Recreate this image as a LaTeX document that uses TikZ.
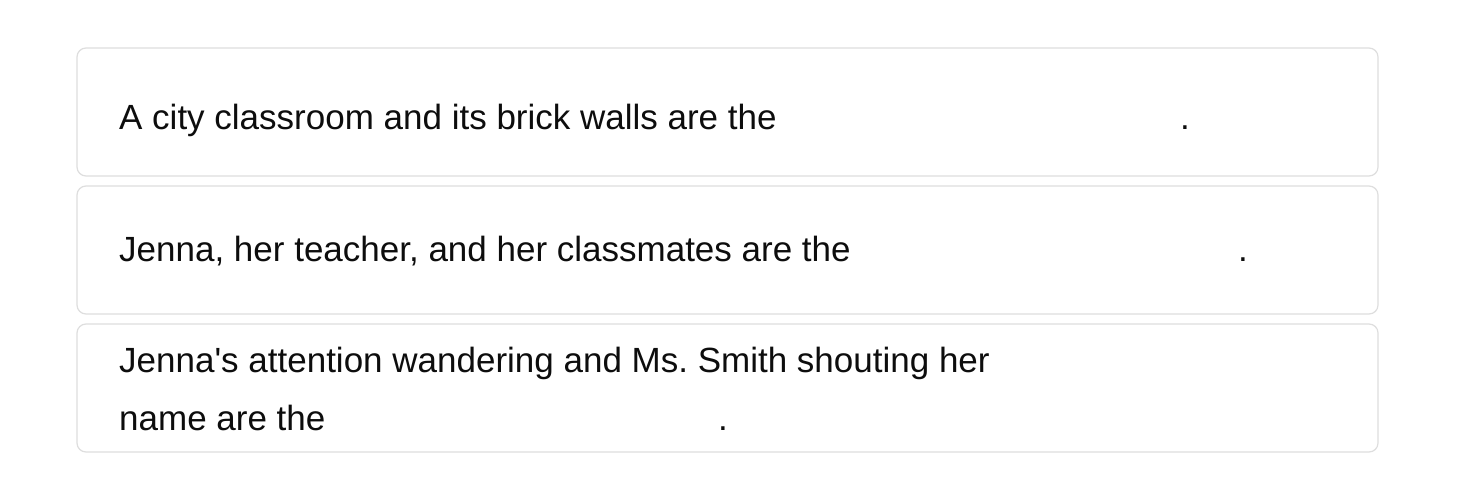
\documentclass[tikz,border=0pt]{standalone}
\usepackage{fontspec}
\setmainfont{Liberation Sans}
\begin{document}
\frenchspacing
\begin{tikzpicture}[x=1pt,y=-1pt,
  card/.style={draw=black!13,line width=1.2pt,rounded corners=9pt,fill=white},
  txt/.style={anchor=base west,inner sep=0pt,font=\fontsize{35}{40}\selectfont,text=black!95},
  dotp/.style={anchor=base,inner sep=0pt,font=\fontsize{35}{40}\selectfont,text=black!95}]
\useasboundingbox (0,0) rectangle (1466,500);
\fill[white] (0,0) rectangle (1466,500);
\draw[card] (77,48) rectangle (1378,176);
\draw[card] (77,186) rectangle (1378,314);
\draw[card] (77,324) rectangle (1378,452);
\node[txt] (t1) at (119,129) {A city classroom and its brick walls are the};
\node[dotp] (p1) at (1185,129) {.};
\node[txt] (t2) at (119,261) {Jenna, her teacher, and her classmates are the};
\node[dotp] (p2) at (1243,261) {.};
\node[txt] (t3a) at (119,372) {Jenna\textquotesingle s attention wandering and Ms. Smith shouting her};
\node[txt] (t3b) at (119,430) {name are the};
\node[dotp] (p3) at (723,430) {.};
\end{tikzpicture}
\end{document}
